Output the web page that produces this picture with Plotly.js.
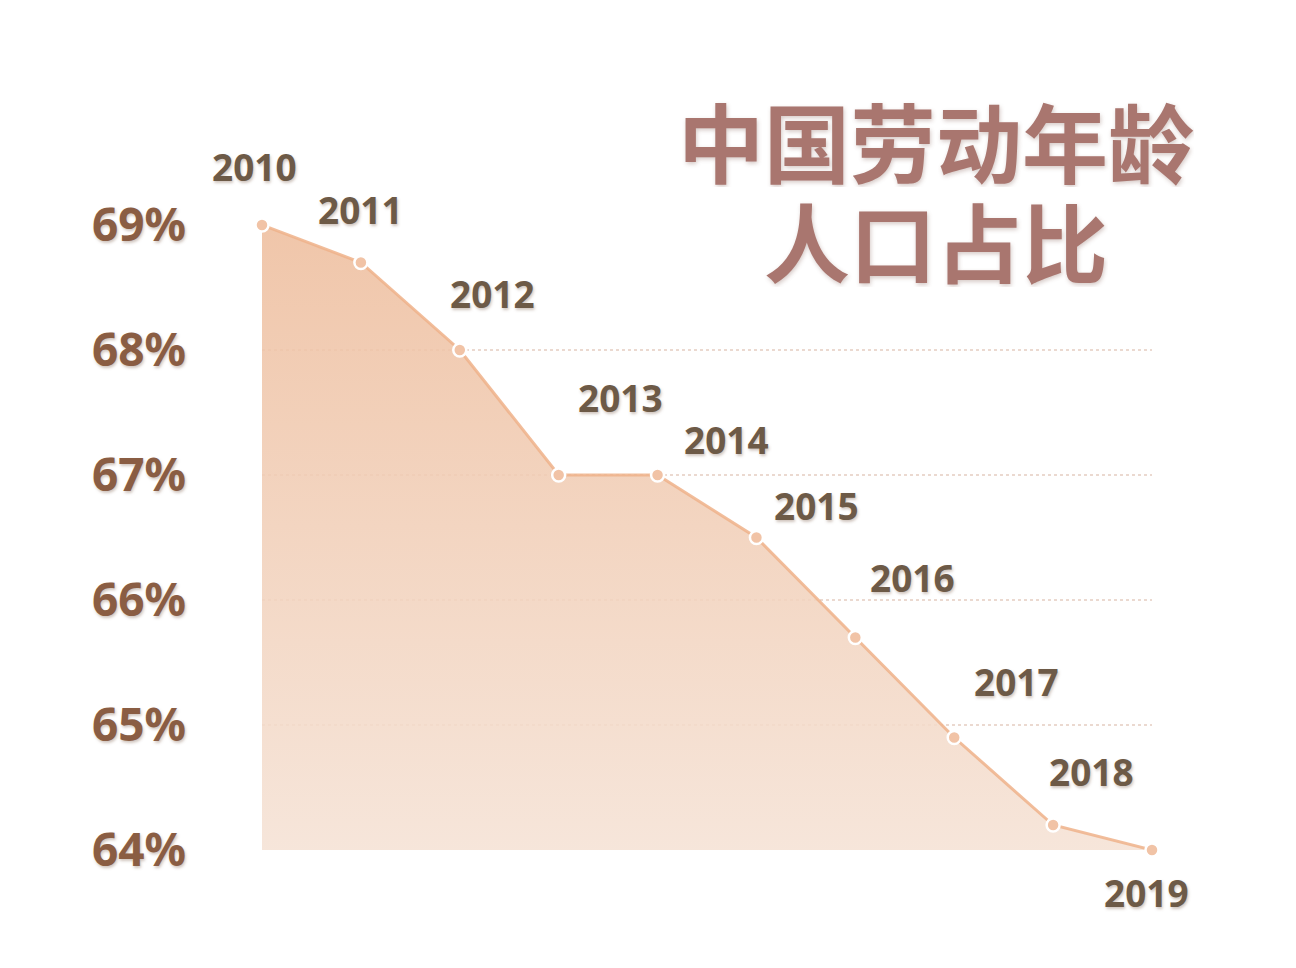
<!DOCTYPE html>
<html>
<head>
<meta charset="utf-8">
<script src="https://cdn.plot.ly/plotly-3.0.1.min.js"></script>
<style>
html,body{margin:0;padding:0;background:#ffffff;}
#chart{width:1296px;height:968px;}
</style>
</head>
<body>
<div id="chart"></div>
<script>
// ---- data ----
var years = [2010, 2011, 2012, 2013, 2014, 2015, 2016, 2017, 2018, 2019];
var yearLabels = ["2010", "2011", "2012", "2013", "2014", "2015", "2016", "2017", "2018", "2019"];
var laborShare = [69.0, 68.7, 68.0, 67.0, 67.0, 66.5, 65.7, 64.9, 64.2, 64.0];
var tickValues = [64, 65, 66, 67, 68, 69];
var tickTexts = ["64%", "65%", "66%", "67%", "68%", "69%"];
var titleLines = ["中国劳动年龄", "人口占比"];

// ---- label offsets (pixels, styling only) ----
var labelShiftX = [-8, 0, 33, 62, 69, 60, 57, 62, 38, -6];
var labelShiftY = [59, 53, 57, 78, 36, 32, 60, 56, 54, -42];
var titleLineY = [1.1376, 0.9776];

var shadow = "1px 2px 3px rgba(120,90,70,0.35)";

var trace = {
  type: "scatter",
  mode: "lines+markers",
  x: years,
  y: laborShare,
  fill: "tozeroy",
  fillgradient: {
    type: "vertical",
    start: 64,
    stop: 69,
    colorscale: [[0, "rgba(245,226,213,0.88)"], [1, "rgba(238,190,158,0.88)"]]
  },
  line: {color: "rgba(238,178,138,0.85)", width: 3},
  marker: {size: 13, color: "#f1c3a6", line: {color: "#ffffff", width: 2.5}},
  hoverinfo: "skip",
  cliponaxis: false
};

var annotations = years.map(function (yr, i) {
  return {
    x: yr, y: laborShare[i], xref: "x", yref: "y",
    text: yearLabels[i], showarrow: false,
    xshift: labelShiftX[i], yshift: labelShiftY[i],
    font: {family: "Noto Sans, sans-serif", size: 37, color: "#6d5a47", weight: 700, shadow: shadow}
  };
});

titleLines.forEach(function (t, i) {
  annotations.push({
    xref: "paper", yref: "paper", x: 0.757, y: titleLineY[i],
    text: t, showarrow: false, align: "center", valign: "middle",
    xanchor: "center", yanchor: "middle", borderpad: 0, height: 96,
    font: {family: "Noto Sans CJK SC, sans-serif", size: 86, color: "#a9766f", weight: 700,
           shadow: "1px 2px 4px rgba(120,80,70,0.3)"}
  });
});

var layout = {
  width: 1296, height: 968,
  margin: {l: 262, r: 144, t: 225, b: 118, pad: 0},
  paper_bgcolor: "#ffffff",
  plot_bgcolor: "#ffffff",
  showlegend: false,
  xaxis: {
    range: [2010, 2019],
    showgrid: false, zeroline: false, showline: false,
    showticklabels: false, ticks: "", fixedrange: true
  },
  yaxis: {
    range: [64, 69],
    tickmode: "array", tickvals: tickValues, ticktext: tickTexts,
    showgrid: true, gridcolor: "rgba(190,130,100,0.3)", gridwidth: 2, griddash: "dot",
    zeroline: false, showline: false, ticks: "",
    ticklabelstandoff: 75,
    tickfont: {family: "Noto Sans, sans-serif", size: 46, color: "#8a5d43", weight: 700, shadow: shadow},
    fixedrange: true
  },
  annotations: annotations
};

Plotly.newPlot("chart", [trace], layout, {displayModeBar: false, staticPlot: true});
</script>
</body>
</html>
